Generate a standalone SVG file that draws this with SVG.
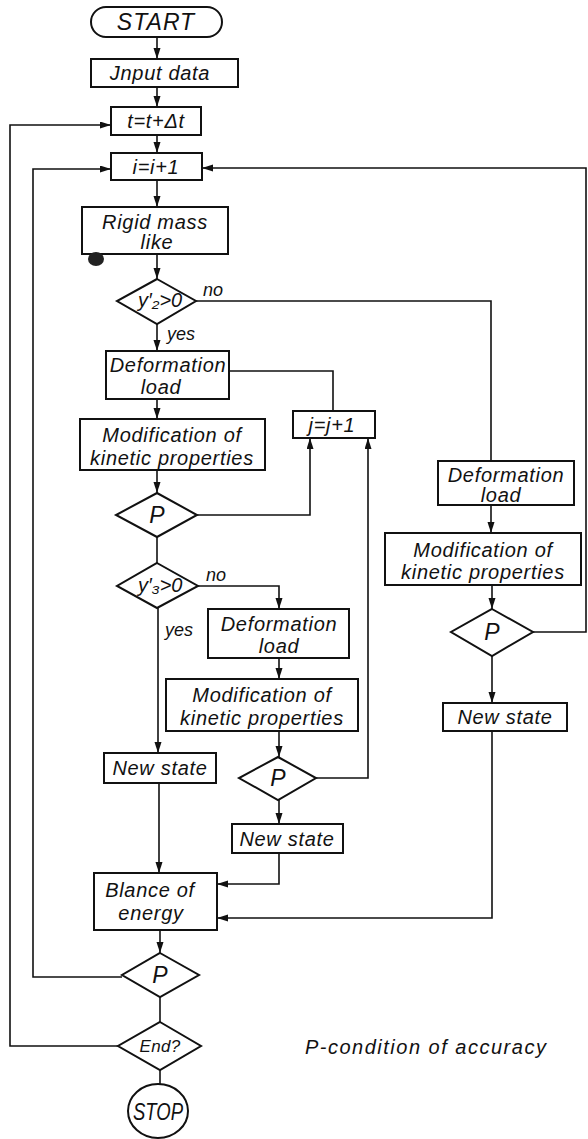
<svg xmlns="http://www.w3.org/2000/svg" width="588" height="1139" viewBox="0 0 588 1139">
<style>
  .box { fill: #fff; stroke: #111; stroke-width: 2; }
  .con { fill: none; stroke: #111; stroke-width: 1.6; }
  .arr { marker-end: url(#ah); }
  text { font-family: "Liberation Sans", Arial, sans-serif; font-style: italic; fill: #111; }
  .t { font-size: 20px; letter-spacing: 0.7px; text-anchor: middle; }
  .p { font-size: 23px; text-anchor: middle; }
  .s { font-size: 18px; }
  .c { font-size: 20px; letter-spacing: 0; }
</style>
<defs>
  <marker id="ah" markerUnits="userSpaceOnUse" markerWidth="12" markerHeight="8" refX="11" refY="3.5" orient="auto">
    <path d="M0,0 L11,3.5 L0,7 Z" fill="#111"/>
  </marker>
</defs>
<rect width="588" height="1139" fill="#fff"/>

<g id="connectors">
  <line class="con arr" x1="157" y1="37" x2="157" y2="59"/>
  <line class="con arr" x1="157" y1="87" x2="157" y2="107"/>
  <line class="con arr" x1="157" y1="135" x2="157" y2="153"/>
  <line class="con arr" x1="157" y1="180" x2="157" y2="207"/>
  <line class="con arr" x1="157" y1="254" x2="157" y2="279"/>
  <line class="con arr" x1="157" y1="324" x2="157" y2="351"/>
  <polyline class="con" points="196,301 491,301 491,461"/>
  <polyline class="con" points="229,371 333,371 333,411"/>
  <line class="con arr" x1="157" y1="399" x2="157" y2="419"/>
  <line class="con arr" x1="157" y1="470" x2="157" y2="493"/>
  <polyline class="con arr" points="197,515 310,515 310,438"/>
  <line class="con" x1="157" y1="537" x2="157" y2="563"/>
  <polyline class="con arr" points="198,586 279,586 279,609"/>
  <line class="con arr" x1="279" y1="658" x2="279" y2="679"/>
  <line class="con arr" x1="279" y1="731" x2="279" y2="757"/>
  <line class="con arr" x1="279" y1="800" x2="279" y2="824"/>
  <polyline class="con arr" points="316,778 368,778 368,438"/>
  <line class="con arr" x1="158" y1="608" x2="158" y2="753"/>
  <line class="con arr" x1="159" y1="783" x2="159" y2="873"/>
  <polyline class="con arr" points="279,853 279,884 217,884"/>
  <polyline class="con arr" points="492,731 492,918 217,918"/>
  <line class="con arr" x1="491" y1="505" x2="491" y2="533"/>
  <line class="con arr" x1="492" y1="585" x2="492" y2="609"/>
  <line class="con arr" x1="492" y1="656" x2="492" y2="703"/>
  <polyline class="con arr" points="533,632 586,632 586,168 202,168"/>
  <line class="con arr" x1="160" y1="930" x2="160" y2="953"/>
  <line class="con" x1="160" y1="997" x2="160" y2="1022"/>
  <line class="con" x1="160" y1="1070" x2="160" y2="1084"/>
  <polyline class="con arr" points="122,977 33,977 33,169 111,169"/>
  <polyline class="con arr" points="118,1046 10,1046 10,125 111,125"/>
  <text class="s" x="203" y="296">no</text>
  <text class="s" x="167" y="340">yes</text>
  <text class="s" x="206" y="581">no</text>
  <text class="s" x="165" y="636">yes</text>
</g>

<g id="start">
  <rect class="box" x="91" y="7" width="131" height="30" rx="15"/>
  <text class="t" x="156" y="30" style="font-size:23px;letter-spacing:1px">START</text>
</g>
<g id="input">
  <rect class="box" x="91" y="59" width="147" height="28"/>
  <text class="t" x="160" y="80">Jnput data</text>
</g>
<g id="time">
  <rect class="box" x="111" y="107" width="90" height="28"/>
  <text class="t" x="156" y="128">t=t+Δt</text>
</g>
<g id="iter_i">
  <rect class="box" x="111" y="153" width="91" height="27"/>
  <text class="t" x="156" y="174">i=i+1</text>
</g>
<g id="rigid">
  <rect class="box" x="82" y="207" width="146" height="47"/>
  <text class="t" x="155" y="229">Rigid mass</text>
  <text class="t" x="157" y="249">like</text>
  <ellipse cx="96" cy="259" rx="8" ry="7" fill="#222"/>
</g>
<g id="cond_y2">
  <polygon class="box" points="157,279 196,301 157,324 117,301"/>
  <text class="c" x="138" y="307">y′₂&gt;0</text>
</g>
<g id="deform1">
  <rect class="box" x="106" y="351" width="123" height="48"/>
  <text class="t" x="168" y="372">Deformation</text>
  <text class="t" x="161" y="394">load</text>
</g>
<g id="modif1">
  <rect class="box" x="80" y="419" width="185" height="51"/>
  <text class="t" x="172" y="442">Modification of</text>
  <text class="t" x="172" y="465">kinetic properties</text>
</g>
<g id="iter_j">
  <rect class="box" x="293" y="411" width="82" height="27"/>
  <text class="t" x="332" y="432">j=j+1</text>
</g>
<g id="p1">
  <polygon class="box" points="157,493 197,515 157,537 116,515"/>
  <text class="p" x="157" y="523">P</text>
</g>
<g id="cond_y3">
  <polygon class="box" points="157,563 198,586 157,608 117,586"/>
  <text class="c" x="138" y="592">y′₃&gt;0</text>
</g>
<g id="deform2">
  <rect class="box" x="208" y="609" width="141" height="49"/>
  <text class="t" x="279" y="631">Deformation</text>
  <text class="t" x="279" y="653">load</text>
</g>
<g id="modif2">
  <rect class="box" x="166" y="679" width="192" height="52"/>
  <text class="t" x="262" y="702">Modification of</text>
  <text class="t" x="262" y="725">kinetic properties</text>
</g>
<g id="p_mid">
  <polygon class="box" points="278,757 316,778 278,800 239,778"/>
  <text class="p" x="278" y="786">P</text>
</g>
<g id="newstate1">
  <rect class="box" x="104" y="753" width="112" height="30"/>
  <text class="t" x="160" y="775">New state</text>
</g>
<g id="newstate2">
  <rect class="box" x="232" y="824" width="111" height="29"/>
  <text class="t" x="287" y="846">New state</text>
</g>
<g id="deformR">
  <rect class="box" x="438" y="461" width="136" height="44"/>
  <text class="t" x="506" y="482">Deformation</text>
  <text class="t" x="501" y="502">load</text>
</g>
<g id="modifR">
  <rect class="box" x="385" y="533" width="196" height="52"/>
  <text class="t" x="483" y="557">Modification of</text>
  <text class="t" x="483" y="579">kinetic properties</text>
</g>
<g id="pR">
  <polygon class="box" points="492,609 533,632 492,656 451,632"/>
  <text class="p" x="492" y="640">P</text>
</g>
<g id="newstateR">
  <rect class="box" x="443" y="703" width="124" height="28"/>
  <text class="t" x="505" y="724">New state</text>
</g>
<g id="balance">
  <rect class="box" x="94" y="873" width="123" height="57"/>
  <text class="t" x="150" y="897">Blance of</text>
  <text class="t" x="151" y="920">energy</text>
</g>
<g id="p_final">
  <polygon class="box" points="160,953 199,975 160,997 122,975"/>
  <text class="p" x="160" y="983">P</text>
</g>
<g id="end">
  <polygon class="box" points="160,1022 201,1046 160,1070 118,1046"/>
  <text class="t" x="160" y="1052" style="font-size:17px;letter-spacing:0.3px">End?</text>
</g>
<g id="stop">
  <ellipse class="box" cx="158" cy="1111" rx="30" ry="27"/>
  <text x="158" y="1120" style="font-size:24px;text-anchor:middle" textLength="50" lengthAdjust="spacingAndGlyphs">STOP</text>
</g>
<g id="legend">
  <text x="305" y="1054" style="font-size:20px;letter-spacing:1.5px">P-condition of accuracy</text>
</g>
</svg>
